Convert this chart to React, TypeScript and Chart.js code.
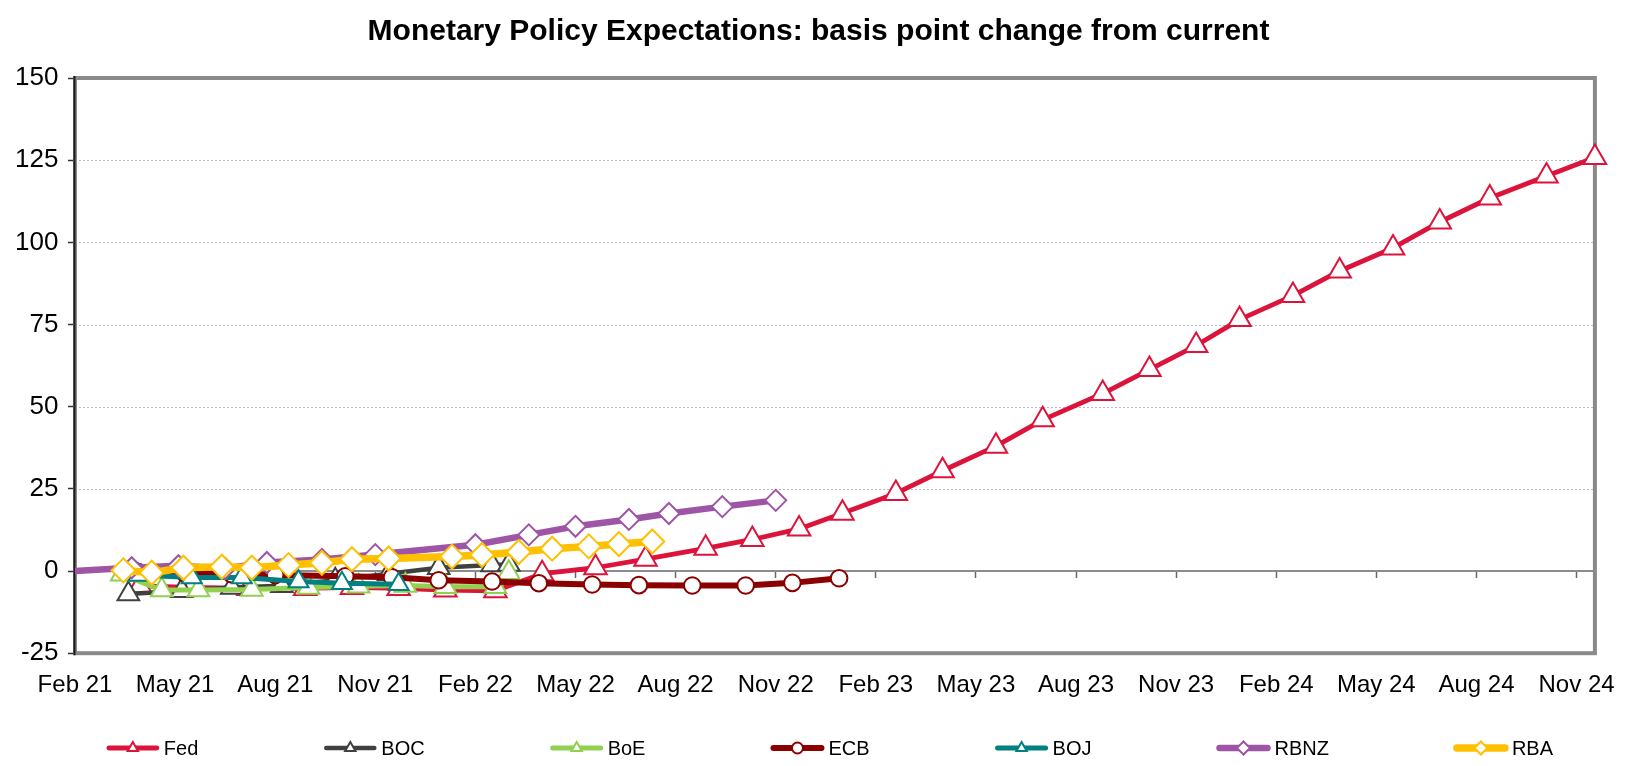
import React, { useEffect, useRef } from "react";
import { Chart, registerables } from "chart.js";

Chart.register(...registerables);

const TITLE = "Monetary Policy Expectations: basis point change from current";

// x axis: months since Feb 2021
const X_MIN = 0;
const X_MAX = 45.55;
const X_TICK_MONTHS = [0, 3, 6, 9, 12, 15, 18, 21, 24, 27, 30, 33, 36, 39, 42, 45];
const X_TICK_LABELS = [
  "Feb 21", "May 21", "Aug 21", "Nov 21", "Feb 22", "May 22", "Aug 22", "Nov 22",
  "Feb 23", "May 23", "Aug 23", "Nov 23", "Feb 24", "May 24", "Aug 24", "Nov 24",
];
const Y_MIN = -25;
const Y_MAX = 150;
const Y_STEP = 25;
const Y_GRID_VALUES = [25, 50, 75, 100, 125];

const FED_MONTHS = [1.95, 3.5, 5.2, 6.9, 8.3, 9.7, 11.1, 12.6, 14.0, 15.6, 17.1, 18.9, 20.3, 21.7, 23.0, 24.6, 26.0, 27.6, 29.0, 30.8, 32.2, 33.6, 34.9, 36.5, 37.9, 39.5, 40.9, 42.4, 44.1, 45.55];
const FED_BP = [-4.5, -5.0, -5.3, -5.3, -5.0, -5.3, -5.8, -6.0, -0.8, 1.0, 3.6, 6.9, 9.6, 12.8, 17.6, 23.6, 30.5, 38.0, 46.0, 54.0, 61.3, 68.6, 76.5, 83.8, 91.3, 98.3, 106.2, 113.5, 120.2, 125.8];

const BOC_MONTHS = [1.6, 3.2, 4.7, 6.2, 7.8, 9.4, 10.9, 12.5, 13.0];
const BOC_BP = [-7.0, -6.0, -5.0, -4.5, -2.8, -0.8, 1.0, 1.8, 2.0];

const BOE_MONTHS = [1.4, 2.6, 3.7, 5.3, 7.0, 8.5, 9.9, 11.1, 12.6, 13.0];
const BOE_BP = [-1.0, -5.8, -5.8, -5.6, -5.0, -4.6, -4.4, -4.8, -4.8, -0.5];

const ECB_MONTHS = [1.9, 3.3, 4.7, 6.0, 8.1, 9.5, 10.9, 12.5, 13.9, 15.5, 16.9, 18.5, 20.1, 21.5, 22.9];
const ECB_BP = [-0.3, -0.8, -1.0, -1.2, -1.6, -1.9, -2.8, -3.2, -3.7, -4.1, -4.3, -4.4, -4.4, -3.6, -2.2];

const BOJ_MONTHS = [1.9, 3.5, 5.0, 6.7, 8.0, 9.7];
const BOJ_BP = [-1.2, -2.0, -2.0, -3.2, -3.7, -4.0];

const RBNZ_MONTHS = [0, 1.7, 3.1, 4.5, 5.75, 7.4, 9.0, 12.0, 13.6, 15.0, 16.6, 17.8, 19.4, 21.0];
const RBNZ_BP = [0, 1.0, 1.6, 0.8, 2.6, 3.5, 5.0, 8.0, 11.0, 13.6, 15.7, 17.5, 19.6, 21.5];

const RBA_MONTHS = [1.45, 2.3, 3.25, 4.4, 5.3, 6.4, 7.4, 8.3, 9.4, 11.3, 12.2, 13.3, 14.3, 15.4, 16.3, 17.3];
const RBA_BP = [0.2, -0.5, 1.0, 1.3, 1.0, 1.8, 2.5, 3.6, 3.8, 4.4, 4.9, 5.8, 6.8, 7.5, 8.2, 9.0];

type Series = {
  label: string;
  months: number[];
  values: number[];
  color: string;
  width: number;
  marker: "triangle" | "circle" | "rectRot";
  radius: number;
  legendRadius: number;
};

const SERIES: Series[] = [
  { label: "Fed", months: FED_MONTHS, values: FED_BP, color: "#DC143C", width: 4.8, marker: "triangle", radius: 13, legendRadius: 6 },
  { label: "BOC", months: BOC_MONTHS, values: BOC_BP, color: "#404040", width: 4.5, marker: "triangle", radius: 12.5, legendRadius: 6 },
  { label: "BoE", months: BOE_MONTHS, values: BOE_BP, color: "#92D050", width: 5, marker: "triangle", radius: 12.5, legendRadius: 6 },
  { label: "ECB", months: ECB_MONTHS, values: ECB_BP, color: "#8B0000", width: 6, marker: "circle", radius: 8.3, legendRadius: 5.5 },
  { label: "BOJ", months: BOJ_MONTHS, values: BOJ_BP, color: "#008080", width: 5, marker: "triangle", radius: 11.5, legendRadius: 6 },
  { label: "RBNZ", months: RBNZ_MONTHS, values: RBNZ_BP, color: "#9E55A6", width: 6.5, marker: "rectRot", radius: 10.5, legendRadius: 6.5 },
  { label: "RBA", months: RBA_MONTHS, values: RBA_BP, color: "#FFC000", width: 7.5, marker: "rectRot", radius: 12, legendRadius: 6.5 },
];

const FONT = '"Liberation Sans", Arial, Helvetica, sans-serif';

function drawMarker(ctx: CanvasRenderingContext2D, kind: string, x: number, y: number, r: number) {
  ctx.beginPath();
  if (kind === "triangle") {
    ctx.moveTo(x, y - r);
    ctx.lineTo(x + r * 0.866, y + r * 0.5);
    ctx.lineTo(x - r * 0.866, y + r * 0.5);
    ctx.closePath();
  } else if (kind === "circle") {
    ctx.arc(x, y, r, 0, Math.PI * 2);
  } else {
    ctx.moveTo(x, y - r);
    ctx.lineTo(x + r, y);
    ctx.lineTo(x, y + r);
    ctx.lineTo(x - r, y);
    ctx.closePath();
  }
  ctx.fill();
  ctx.stroke();
}

const framePlugin = {
  id: "frameAndGrid",
  beforeDatasetsDraw(chart: any) {
    const { ctx, chartArea } = chart;
    const { left, right, top, bottom } = chartArea;
    const yScale = chart.scales.y;
    ctx.save();
    // dotted gridlines
    ctx.strokeStyle = "#b8b8c8";
    ctx.lineWidth = 1;
    ctx.setLineDash([2, 2]);
    Y_GRID_VALUES.forEach((v) => {
      const py = Math.round(yScale.getPixelForValue(v)) + 0.5;
      ctx.beginPath();
      ctx.moveTo(left, py);
      ctx.lineTo(right, py);
      ctx.stroke();
    });
    ctx.setLineDash([]);
    // frame
    ctx.strokeStyle = "#8a8a8a";
    ctx.lineWidth = 4;
    ctx.strokeRect(left, top, right - left, bottom - top);
    // left axis
    ctx.strokeStyle = "#1a1a1a";
    ctx.lineWidth = 2;
    ctx.beginPath();
    ctx.moveTo(left - 0.5, top - 2);
    ctx.lineTo(left - 0.5, bottom + 2);
    ctx.stroke();
    ctx.restore();
  },
};

const titlePlugin = {
  id: "centredTitle",
  afterDraw(chart: any) {
    const { ctx } = chart;
    ctx.save();
    ctx.font = `bold 30px ${FONT}`;
    ctx.fillStyle = "#000";
    ctx.textAlign = "center";
    ctx.textBaseline = "middle";
    ctx.fillText(TITLE, chart.width / 2 + 2, 32);
    ctx.restore();
  },
};

const legendPlugin = {
  id: "bottomLegend",
  afterDraw(chart: any) {
    const { ctx, chartArea } = chart;
    const y = chart.height - 18;
    const lineLen = 52;
    const textGap = 5;
    const itemGap = 126;
    ctx.save();
    ctx.font = `20px ${FONT}`;
    const widths = SERIES.map((s) => lineLen + textGap + ctx.measureText(s.label).width);
    const total = widths.reduce((a, b) => a + b, 0) + itemGap * (SERIES.length - 1);
    let x = (chartArea.left + chartArea.right) / 2 - 5 - total / 2;
    SERIES.forEach((s, i) => {
      ctx.strokeStyle = s.color;
      ctx.lineWidth = s.width;
      ctx.lineCap = "round";
      ctx.beginPath();
      ctx.moveTo(x + 2, y);
      ctx.lineTo(x + lineLen - 2, y);
      ctx.stroke();
      ctx.fillStyle = "#ffffff";
      ctx.lineWidth = 2;
      drawMarker(ctx, s.marker, x + lineLen / 2, y, s.legendRadius);
      ctx.fillStyle = "#000000";
      ctx.textAlign = "left";
      ctx.textBaseline = "middle";
      ctx.fillText(s.label, x + lineLen + textGap, y + 1);
      x += widths[i] + itemGap;
    });
    ctx.restore();
  },
};

const setTicks = (scale: any) => {
  scale.ticks = X_TICK_MONTHS.map((v) => ({ value: v }));
};

export default function App() {
  const canvasRef = useRef<HTMLCanvasElement | null>(null);

  useEffect(() => {
    if (!canvasRef.current) return;
    Chart.defaults.font.family = FONT;
    const datasets = SERIES.map((s, idx) => ({
      label: s.label,
      data: s.months.map((m, i) => ({ x: m, y: s.values[i] })),
      borderColor: s.color,
      backgroundColor: s.color,
      borderWidth: s.width,
      pointStyle: s.marker,
      pointRadius: (c: any) => (s.label === "RBNZ" && c.dataIndex === 0 ? 0 : s.radius),
      pointBackgroundColor: "#ffffff",
      pointBorderColor: s.color,
      pointBorderWidth: 2,
      tension: 0,
      borderJoinStyle: "round" as const,
      clip: false as any,
      order: SERIES.length - idx,
      fill: false,
    }));

    const chart = new Chart(canvasRef.current, {
      type: "line",
      data: { datasets },
      options: {
        animation: false,
        responsive: true,
        maintainAspectRatio: false,
        layout: { padding: { left: 5.6, right: 35, top: 78, bottom: 48 } },
        plugins: {
          legend: { display: false },
          tooltip: { enabled: false },
          title: { display: false },
        },
        scales: {
          x: {
            type: "linear",
            min: X_MIN,
            max: X_MAX,
            afterBuildTicks: setTicks,
            grid: { display: false, drawTicks: false },
            border: { display: false },
            ticks: {
              autoSkip: false,
              maxRotation: 0,
              padding: 18,
              color: "#000",
              font: { size: 24, family: FONT },
              callback: (_v: any, i: number) => X_TICK_LABELS[i],
            },
          },
          x2: {
            type: "linear",
            position: { y: 0 } as any,
            min: X_MIN,
            max: X_MAX,
            afterBuildTicks: setTicks,
            grid: { drawOnChartArea: false, drawTicks: true, tickLength: 6, tickColor: "#666", tickWidth: 1.5 },
            border: { display: true, color: "#8c8c8c", width: 2 },
            ticks: { display: false },
          },
          y: {
            type: "linear",
            min: Y_MIN,
            max: Y_MAX,
            grid: { drawOnChartArea: false, drawTicks: true, tickLength: 7, tickColor: "#333", tickWidth: 1.5 },
            border: { display: false },
            ticks: {
              stepSize: Y_STEP,
              padding: 9.5,
              color: "#000",
              font: { size: 26, family: FONT },
            },
          },
        },
      } as any,
      plugins: [framePlugin, titlePlugin, legendPlugin],
    });
    return () => chart.destroy();
  }, []);

  return (
    <div style={{ position: "fixed", left: 0, top: 0, width: "1633px", height: "766px", background: "#fff" }}>
      <canvas ref={canvasRef} />
    </div>
  );
}
